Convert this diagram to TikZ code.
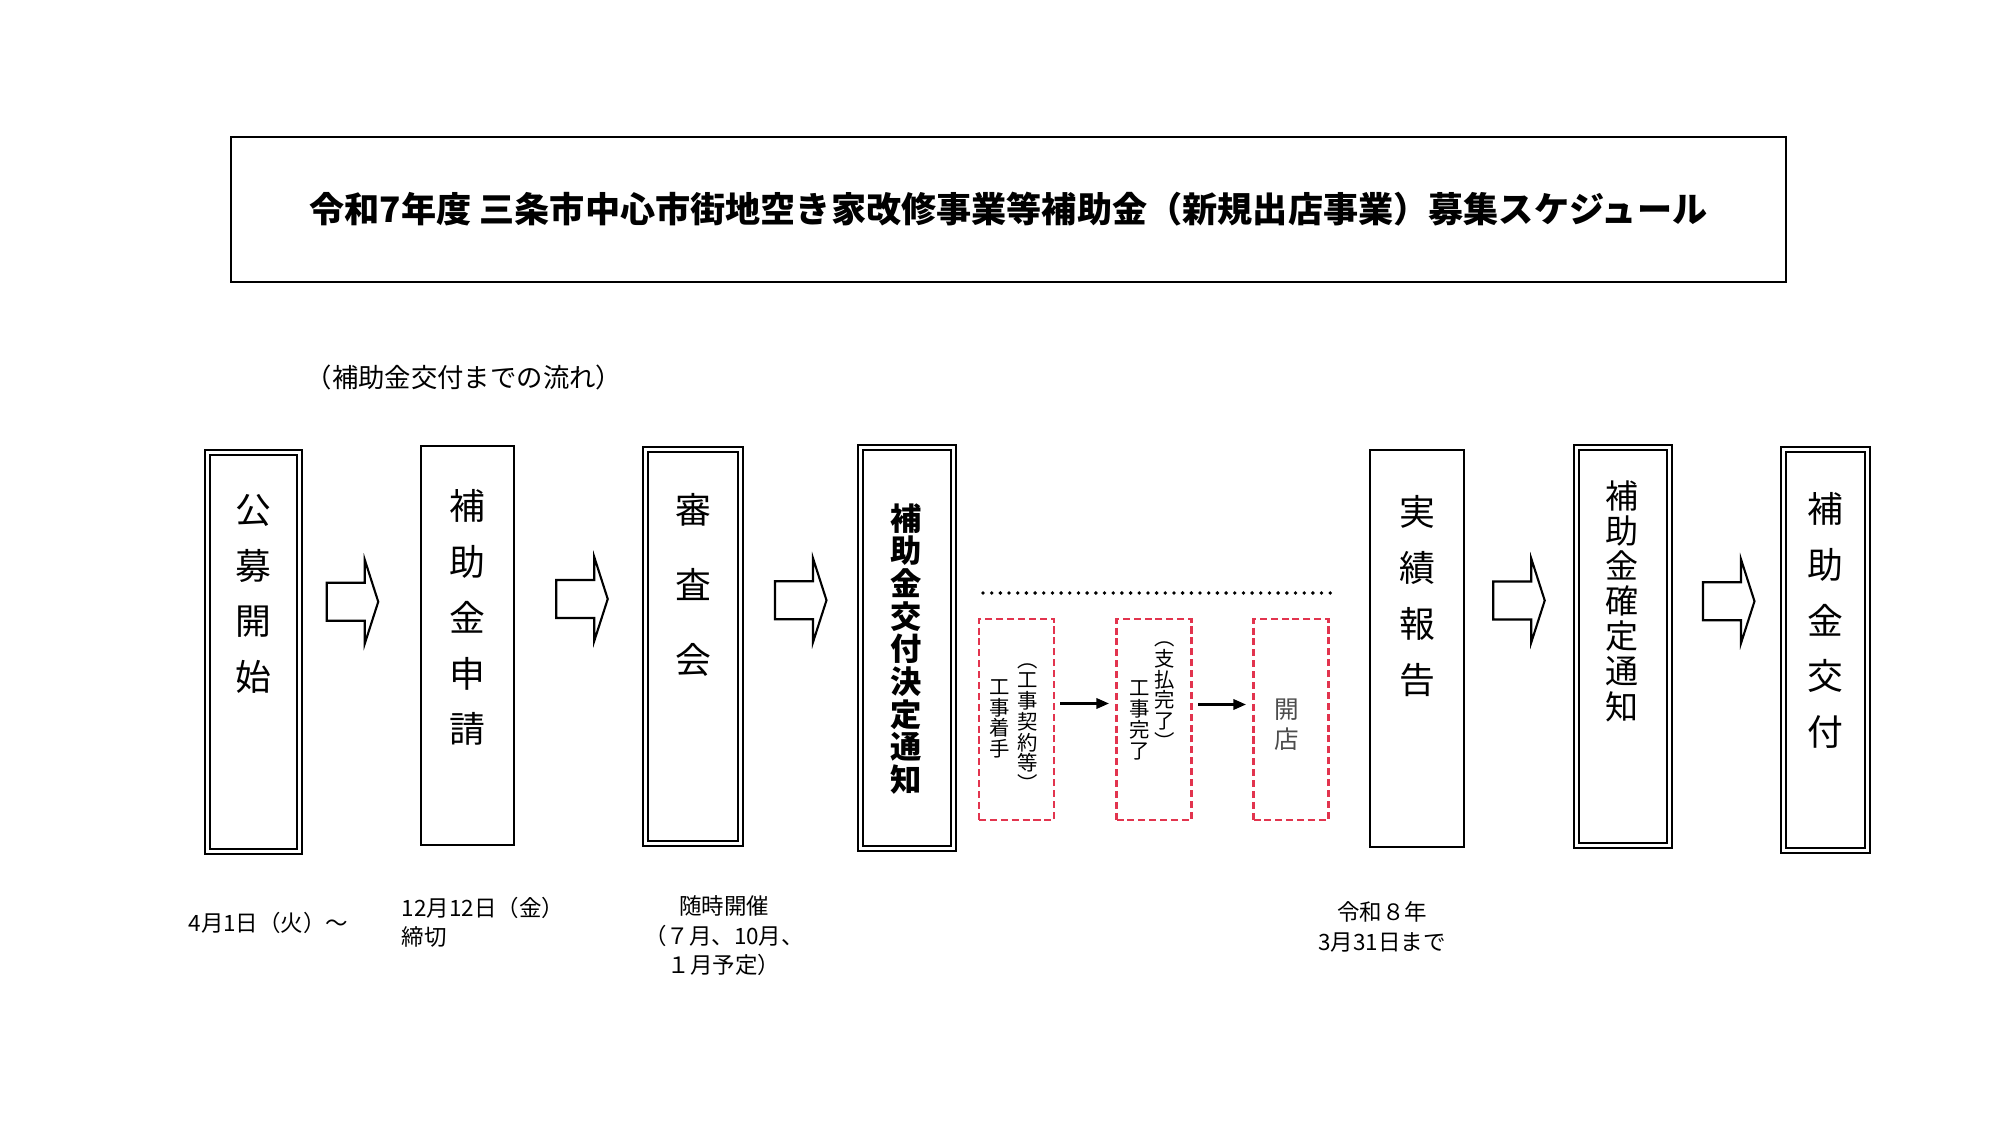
\documentclass[tikz,border=0pt]{standalone}
\usepackage{fontspec}
\setmainfont{Noto Sans CJK JP}
\usetikzlibrary{arrows.meta,calc}
\definecolor{dashred}{RGB}{226,52,78}

\begin{document}
\begin{tikzpicture}[x=0.1mm,y=-0.1mm,
    sbox/.style={draw,line width=0.6pt,inner sep=0pt},
    dbox/.style={draw,double,double distance=0.7pt,line width=0.6pt,inner sep=0pt},
    redbox/.style={draw=dashred,line width=0.6pt,dash pattern=on 2pt off 1.1pt,inner sep=0pt,minimum width=7.5mm,minimum height=20.1mm},
    btext/.style={align=center,inner sep=0pt,font=\fontsize{10.2pt}{15.9pt}\selectfont},
    rtext/.style={align=center,inner sep=0pt,font=\fontsize{5.8pt}{5.9pt}\selectfont},
    lbl/.style={inner sep=0pt,font=\fontsize{6.4pt}{8.4pt}\selectfont},
    fatarrow/.style={draw,line width=0.6pt,line join=miter,fill=white},
    smallarrow/.style={line width=0.6pt,-{Triangle[length=3.6pt,width=3pt]}},
    dotline/.style={line width=1.1pt,line cap=round,dash pattern=on 0pt off 2.47pt}]
  \fill[white] (0,0) rectangle (2000,1125);
  \useasboundingbox (0,0) rectangle (2000,1125);

  % title
  \node[draw,line width=0.7pt,minimum width=155.45mm,minimum height=14.45mm,
        font=\fontsize{10pt}{12pt}\selectfont\bfseries] (title) at (1008.5,209.5)
        {令和7年度 三条市中心市街地空き家改修事業等補助金（新規出店事業）募集スケジュール};
  \node[inner sep=0pt,font=\fontsize{7.5pt}{9pt}\selectfont] (sub) at (464,377) {（補助金交付までの流れ）};

  % step boxes
  \node[dbox,minimum width=9.2mm,minimum height=39.9mm] (b1) at (253.5,652) {};
  \node[sbox,minimum width=9.3mm,minimum height=39.9mm] (b2) at (467.5,645.5) {};
  \node[dbox,minimum width=9.5mm,minimum height=39.4mm] (b3) at (693,646.5) {};
  \node[dbox,minimum width=9.3mm,minimum height=40.1mm] (b4) at (907,648) {};
  \node[sbox,minimum width=9.4mm,minimum height=39.7mm] (b5) at (1417,648.5) {};
  \node[dbox,minimum width=9.3mm,minimum height=39.8mm] (b6) at (1623,646.5) {};
  \node[dbox,minimum width=8.4mm,minimum height=40.1mm] (b7) at (1825.5,650) {};

  \node[btext] (t1) at (253.5,594) {公\\募\\開\\始};
  \node[btext] (t2) at (467.5,617.5) {補\\助\\金\\申\\請};
  \node[btext,font=\fontsize{10.2pt}{21.3pt}\selectfont] (t3) at (693,585) {審\\査\\会};
  \node[btext,font=\fontsize{8.9pt}{9.3pt}\selectfont\bfseries] (t4) at (906,649) {補\\助\\金\\交\\付\\決\\定\\通\\知};
  \node[btext] (t5) at (1417,596) {実\\績\\報\\告};
  \node[btext,font=\fontsize{9.4pt}{10pt}\selectfont] (t6) at (1622,601) {補\\助\\金\\確\\定\\通\\知};
  \node[btext] (t7) at (1825,620.5) {補\\助\\金\\交\\付};

  % block arrows
  \foreach \a/\b/\s in {b1/b2/-8.5,b2/b3/1.5,b3/b4/-0.5,b5/b6/-2,b6/b7/1.5}
    \draw[fatarrow] ($(\a.east)!.5!(\b.west)$) ++({\s-25},-66) -- ++(38,0) -- ++(0,-23)
      -- ++(13.5,42) -- ++(-13.5,42) -- ++(0,-23) -- ++(-38,0) -- cycle;

  % works in between
  \draw[dotline] (983,593) -- (1337,593);
  \node[redbox] (r1) at (1016.5,719.5) {};
  \node[redbox] (r2) at (1154,719.5) {};
  \node[redbox] (r3) at (1291,719.5) {};
  \node[rtext] (r1a) at (1000,719) {工\\事\\着\\手};
  \node[rtext] (r1b) at (1028,727.5) {︵\\工\\事\\契\\約\\等\\︶};
  \node[rtext] (r2a) at (1140,720.5) {工\\事\\完\\了};
  \node[rtext] (r2b) at (1165,695.5) {︵\\支\\払\\完\\了\\︶};
  \node[rtext,text=black!70,font=\fontsize{7pt}{8.5pt}\selectfont] (r3a) at (1287,725) {開\\店};
  \draw[smallarrow] ([shift={(5,-16)}]r1.east) -- ([shift={(-6.5,-16)}]r2.west);
  \draw[smallarrow] ([shift={(5.5,-15)}]r2.east) -- ([shift={(-6.5,-15)}]r3.west);

  % dates
  \node[lbl] (d1) at (268.5,923) {4月1日（火）～};
  \node[lbl,align=left,anchor=west] (d2) at (401,922.5) {12月12日（金）\\締切};
  \node[lbl,align=center] (d3) at (724,936) {随時開催\\（７月、10月、\\１月予定）};
  \node[lbl,align=center] (d4) at (1382,927) {令和８年\\3月31日まで};
\end{tikzpicture}
\end{document}
